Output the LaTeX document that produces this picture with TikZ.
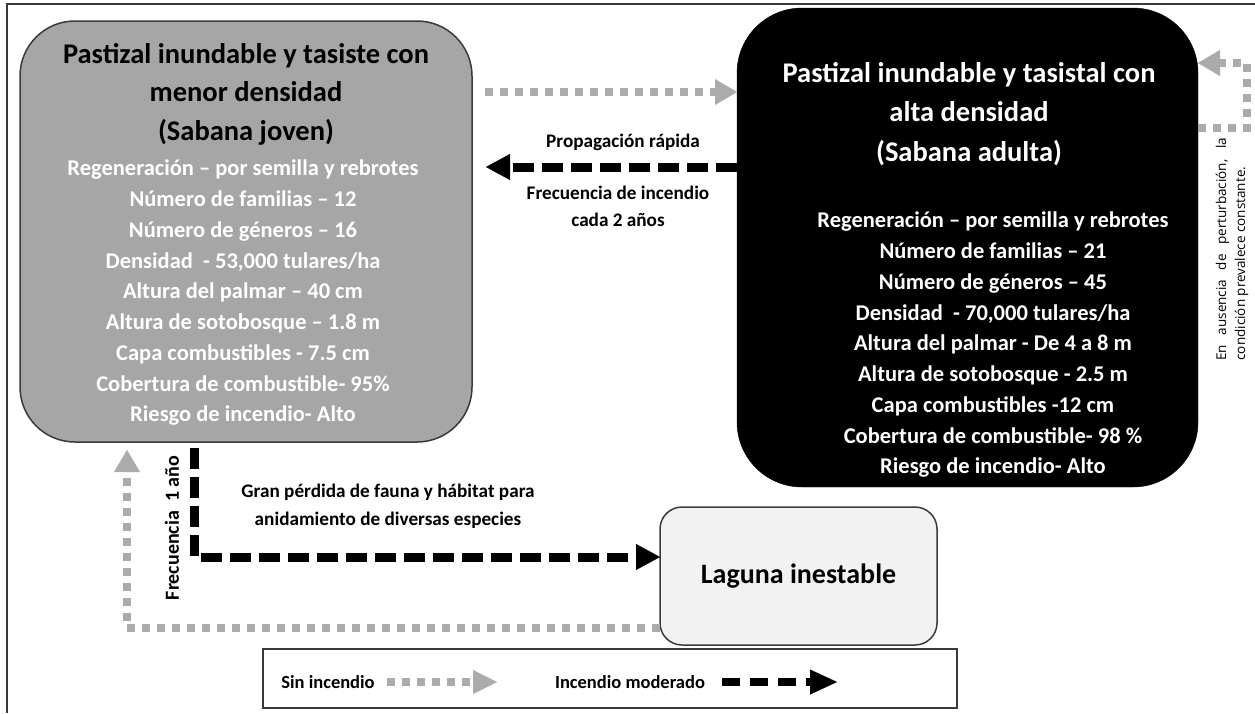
\documentclass[tikz,border=0pt]{standalone}
\usepackage{fontspec}
\setmainfont{Carlito}
\newfontfamily\notefont{Open Sans}
\usetikzlibrary{arrows.meta}
\definecolor{boxgray}{HTML}{A6A6A6}
\definecolor{dotgray}{HTML}{ABABAB}
\definecolor{lagfill}{HTML}{F2F2F2}
\definecolor{edgec}{HTML}{3A3A3A}
\begin{document}
\begin{tikzpicture}[x=1pt,y=-1pt,
  box/.style={rectangle, inner sep=0pt, outer sep=0pt},
  lbl/.style={inner sep=0pt, align=center, font=\bfseries\fontsize{19.2}{27}\selectfont},
  titlef/.style={font=\bfseries\fontsize{28.5}{38.5}\selectfont},
  attrf/.style={font=\bfseries\fontsize{22.5}{30.75}\selectfont},
  legf/.style={font=\bfseries\fontsize{18.5}{22}\selectfont},
  gdots/.style={draw=dotgray, line width=8pt, dash pattern=on 8pt off 7pt,
    -{Triangle[length=22pt,width=26pt,line width=0.1pt,fill=dotgray,color=dotgray]}},
  bdash/.style={draw=black, line width=9pt, dash pattern=on 21pt off 8pt,
    -{Triangle[length=24pt,width=26pt,line width=0.1pt]}},
]
\useasboundingbox (0,0) rectangle (1255,713);
\draw[line width=1.5pt, edgec] (1255,4) -- (7,4) -- (7,713);

% boxes
\node[box, draw=edgec, line width=1.5pt, fill=boxgray, rounded corners=55pt,
  minimum width=452pt, minimum height=421pt] (joven) at (246,231.5) {};
\node[box, fill=black, draw=black, rounded corners=65pt,
  minimum width=461pt, minimum height=479pt] (adulta) at (967.5,247.5) {};
\node[box, draw=edgec, line width=1.5pt, fill=lagfill, rounded corners=22pt,
  minimum width=277pt, minimum height=138pt] (laguna) at (798.5,576) {};
\node[box, draw=edgec, line width=1.3pt,
  minimum width=694pt, minimum height=59pt] (leg) at (610,678.5) {};

% box texts
\node[lbl, titlef] (jt) at (246,94) {Pastizal inundable y tasiste con\\menor densidad\\(Sabana joven)};
\node[lbl, attrf, text=white] (ja) at (243,293) {Regeneración – por semilla y rebrotes\\
Número de familias – 12\\Número de géneros – 16\\Densidad\ \ - 53,000 tulares/ha\\
Altura del palmar – 40 cm\\Altura de sotobosque – 1.8 m\\Capa combustibles - 7.5 cm\\
Cobertura de combustible- 95\%\\Riesgo de incendio- Alto};
\node[lbl, font=\bfseries\fontsize{28.5}{39.5}\selectfont, text=white] (at) at (969,114) {Pastizal inundable y tasistal con\\alta densidad\\(Sabana adulta)};
\node[lbl, attrf, text=white] (aa) at (993,345) {Regeneración – por semilla y rebrotes\\
Número de familias – 21\\Número de géneros – 45\\Densidad\ \ - 70,000 tulares/ha\\
Altura del palmar - De 4 a 8 m\\Altura de sotobosque - 2.5 m\\Capa combustibles -12 cm\\
Cobertura de combustible- 98 \%\\Riesgo de incendio- Alto};
\node[lbl, font=\bfseries\fontsize{28}{32}\selectfont] (lt) at (laguna.center) {Laguna inestable};

% connectors
\coordinate (t1) at (485,92);
\draw[gdots] (t1) -- (adulta.west |- t1);
\coordinate (t2) at (486,167);
\draw[bdash] (adulta.west |- t2) -- (t2);
\coordinate (r1) at (1247,128);
\coordinate (r2) at (1247,63);
\draw[gdots] (adulta.east |- r1) -- (r1) -- (r2) -- (adulta.east |- r2);
\coordinate (b1) at (127,628);
\draw[gdots, shorten >=8pt] (laguna.west |- b1) -- (b1) -- (joven.south -| b1);
\coordinate (c1) at (194,557);
\draw[bdash, shorten <=6pt] (joven.south -| c1) -- (c1) -- (laguna.west |- c1);

% labels
\node[lbl] (l1) at (623,142) {Propagación rápida};
\node[lbl] (l2) at (618,206) {Frecuencia de incendio\\cada 2 años};
\node[lbl, font=\bfseries\fontsize{19.2}{28}\selectfont] (l3) at (388,506) {Gran pérdida de fauna y hábitat para\\anidamiento de diversas especies};
\node[lbl, rotate=90, font=\bfseries\fontsize{20}{24}\selectfont] (l4) at (172,528) {Frecuencia\ \ 1 año};
\node[inner sep=0pt, rotate=90, align=left, font=\notefont\fontsize{13.5}{19}\selectfont] (note) at (1232,249)
  {\makebox[223pt][s]{En ausencia de perturbación, la}\\condición prevalece constante.};

% legend
\node[lbl, legf] (s1) at (328,682) {Sin incendio};
\coordinate (g1) at (387,682);
\coordinate (g2) at (497,682);
\draw[gdots, -{Triangle[length=24pt,width=24pt,line width=0.1pt,fill=dotgray,color=dotgray]}] (g1) -- (g2);
\node[lbl, legf] (s2) at (630,682) {Incendio moderado};
\coordinate (k1) at (722,682);
\coordinate (k2) at (837,682);
\draw[draw=black, line width=8pt, dash pattern=on 18pt off 10pt,
  -{Triangle[length=27pt,width=25pt,line width=0.1pt]}] (k1) -- (k2);
\end{tikzpicture}
\end{document}
